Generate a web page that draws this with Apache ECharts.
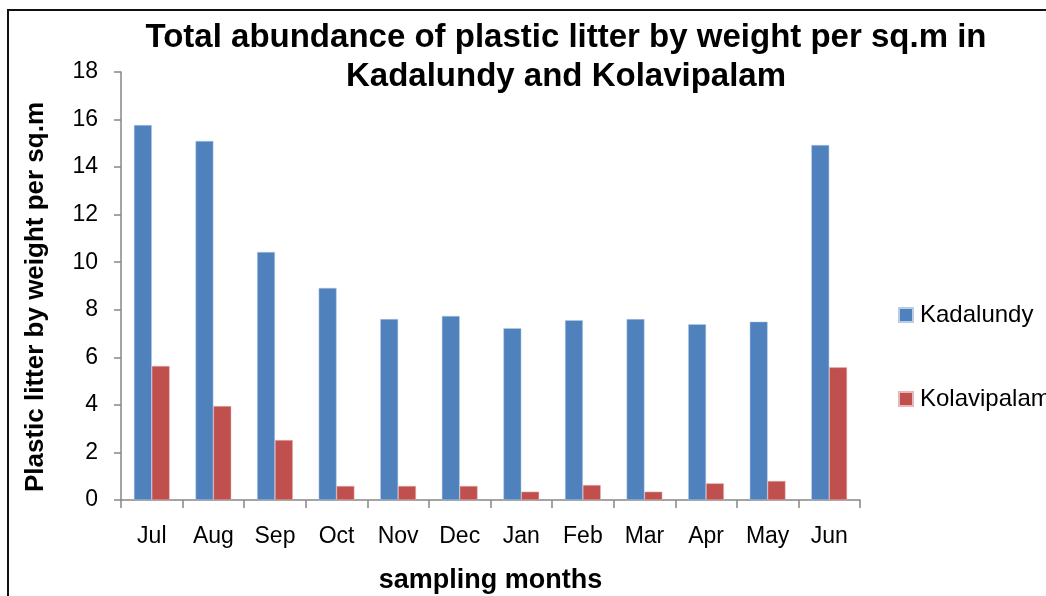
<!DOCTYPE html>
<head>
	<meta charset="utf-8">
	<title>Plastic litter by weight</title>
	<script src="https://cdn.jsdelivr.net/npm/echarts@6/dist/echarts.min.js"></script>
	<style>html,body{margin:0;padding:0;background:#fff;}</style>
</head>
<body>
	<div id="main" style="width:1046px; height:596px"></div>
	<script type="text/javascript">
	// data
	var months = ['Jul', 'Aug', 'Sep', 'Oct', 'Nov', 'Dec', 'Jan', 'Feb', 'Mar', 'Apr', 'May', 'Jun'];
	var kadalundy = [15.77, 15.1, 10.43, 8.92, 7.61, 7.74, 7.22, 7.56, 7.61, 7.39, 7.5, 14.93];
	var kolavipalam = [5.64, 3.95, 2.52, 0.59, 0.59, 0.59, 0.35, 0.63, 0.35, 0.7, 0.8, 5.58];

	var myChart = echarts.init(document.getElementById('main'));
	var option = {
	    backgroundColor: '#ffffff',
	    animation: false,
	    title: {
	    	text: 'Total abundance of plastic litter by weight per sq.m in\nKadalundy and Kolavipalam',
	    	left: 561,
	    	textAlign: 'center',
	    	top: 13,
	    	textStyle: {
	    		color: '#000',
	    		fontFamily: 'Liberation Sans',
	    		fontWeight: 'bold',
	    		fontSize: 33,
	    		lineHeight: 39
	    	}
	    },
	    // black frame round the chart
	    graphic: [{
	    	type: 'rect',
	    	shape: {x: 8, y: 10, width: 1060, height: 600},
	    	style: {fill: 'none', stroke: '#111', lineWidth: 2}
	    }],
	    legend: {
	    	orient: 'vertical',
	    	left: 893,
	    	top: 298,
	    	itemWidth: 14,
	    	itemHeight: 14,
	    	itemGap: 60,
	    	icon: 'rect',
	    	textStyle: {color: '#000', fontFamily: 'Liberation Sans', fontSize: 24, padding: [0, 0, 0, 2]},
	    	data: ['Kadalundy', 'Kolavipalam']
	    },
	    grid: {left: 121, top: 72, right: 186, bottom: 96, outerBoundsMode: 'none', containLabel: false},
	    xAxis: {
	    	type: 'category',
	    	data: months,
	    	name: 'sampling months',
	    	nameLocation: 'middle',
	    	nameGap: 67,
	    	nameTextStyle: {color: '#000', fontFamily: 'Liberation Sans', fontWeight: 'bold', fontSize: 27},
	    	axisLine: {lineStyle: {color: '#868686', width: 1.5}},
	    	axisTick: {show: true, alignWithLabel: false, length: 8, lineStyle: {color: '#868686', width: 1.5}},
	    	axisLabel: {color: '#000', fontFamily: 'Liberation Sans', fontSize: 23, margin: 25}
	    },
	    yAxis: {
	    	type: 'value',
	    	min: 0,
	    	max: 18,
	    	interval: 2,
	    	name: 'Plastic litter by weight per sq.m',
	    	nameLocation: 'middle',
	    	nameGap: 72,
	    	nameTextStyle: {color: '#000', fontFamily: 'Liberation Sans', fontWeight: 'bold', fontSize: 26, padding: [0, 22, 0, 0]},
	    	splitLine: {show: false},
	    	axisLine: {show: true, lineStyle: {color: '#868686', width: 1.5}},
	    	axisTick: {show: true, length: 7, lineStyle: {color: '#868686', width: 1.5}},
	    	axisLabel: {color: '#000', fontFamily: 'Liberation Sans', fontSize: 23, margin: 23}
	    },
	    series: [
	    	{
	    		name: 'Kadalundy',
	    		type: 'bar',
	    		data: kadalundy,
	    		barGap: '0%',
	    		barCategoryGap: '42%',
	    		itemStyle: {color: '#4F81BD', borderColor: '#b9cde5', borderWidth: 0.5}
	    	},
	    	{
	    		name: 'Kolavipalam',
	    		type: 'bar',
	    		data: kolavipalam,
	    		barGap: '0%',
	    		barCategoryGap: '42%',
	    		itemStyle: {color: '#C0504D', borderColor: '#e6b9b8', borderWidth: 0.5}
	    	}
	    ]
	};
	myChart.setOption(option);
	</script>
</body>
